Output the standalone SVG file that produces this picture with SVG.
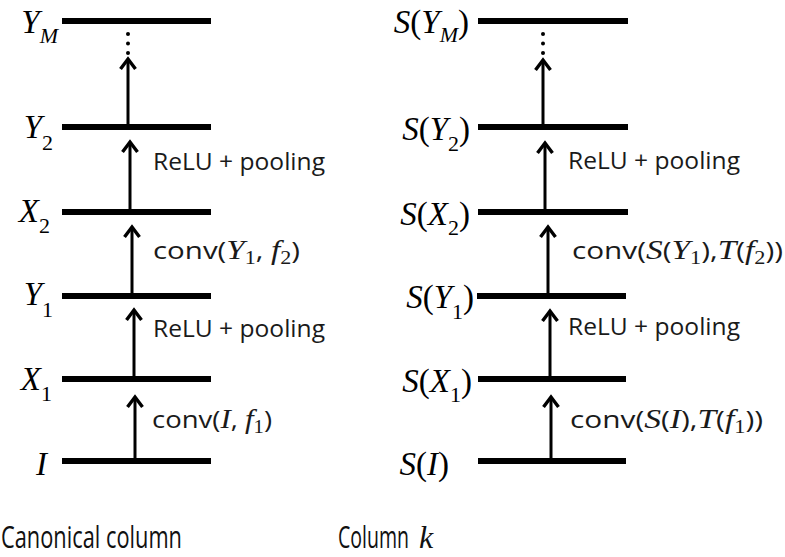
<svg xmlns="http://www.w3.org/2000/svg" width="785" height="557" viewBox="0 0 785 557">
  <style>
    .layer { stroke: #000; stroke-width: 6; }
    .flow { stroke: #000; stroke-width: 3; fill: none; marker-end: url(#head); }
    .dot { fill: #000; }
    .math { font-family: "Liberation Serif", "DejaVu Serif", serif; font-size: 33px; font-style: italic; fill: #000; }
    .up { font-style: normal; }
    .sub { font-size: 22px; }
    .lbl { font-family: "Open Sans", "DejaVu Sans", sans-serif; font-size: 24px; fill: #1a1a1a; }
    .lbl .it { font-family: "Liberation Serif", "DejaVu Serif", serif; font-style: italic; font-size: 27px; }
    .lbl .sb { font-family: "Liberation Serif", "DejaVu Serif", serif; font-size: 18px; }
    .cap { font-family: "Open Sans", "DejaVu Sans", sans-serif; font-size: 31px; fill: #111; }
    .capk { font-family: "Liberation Serif", "DejaVu Serif", serif; font-style: italic; font-size: 32px; fill: #111; }
  </style>
  <defs>
    <marker id="head" markerUnits="userSpaceOnUse" viewBox="-12 -10 14 20" markerWidth="14" markerHeight="20" refX="0" refY="0" orient="auto" overflow="visible">
      <path d="M -10 -7.5 L 0 0 L -10 7.5" fill="none" stroke="#000" stroke-width="3.4" stroke-linejoin="miter"/>
    </marker>
  </defs>
  <rect width="785" height="557" fill="#fff"/>

  <!-- canonical column: layers -->
  <g id="canon-YM"><line class="layer" x1="62" y1="21" x2="211" y2="21"/>
    <text class="math" x="58" y="33" text-anchor="end">Y<tspan class="sub" dy="10">M</tspan></text></g>
  <g id="canon-Y2"><line class="layer" x1="62" y1="127" x2="211" y2="127"/>
    <text class="math" x="53" y="138" text-anchor="end">Y<tspan class="sub up" dy="12">2</tspan></text></g>
  <g id="canon-X2"><line class="layer" x1="62" y1="212" x2="211" y2="212"/>
    <text class="math" x="50" y="222" text-anchor="end">X<tspan class="sub up" dy="11">2</tspan></text></g>
  <g id="canon-Y1"><line class="layer" x1="62" y1="296" x2="211" y2="296"/>
    <text class="math" x="53" y="305" text-anchor="end">Y<tspan class="sub up" dy="12">1</tspan></text></g>
  <g id="canon-X1"><line class="layer" x1="62" y1="379" x2="211" y2="379"/>
    <text class="math" x="52" y="390" text-anchor="end">X<tspan class="sub up" dy="11">1</tspan></text></g>
  <g id="canon-I"><line class="layer" x1="62" y1="461" x2="211" y2="461"/>
    <text class="math" x="36" y="475">I</text></g>

  <!-- column k: layers -->
  <g id="colk-YM"><line class="layer" x1="478" y1="21" x2="628" y2="21"/>
    <text class="math" x="469" y="33" text-anchor="end">S<tspan class="up">(</tspan>Y<tspan class="sub" dy="9">M</tspan><tspan class="up" dy="-9">)</tspan></text></g>
  <g id="colk-Y2"><line class="layer" x1="478" y1="127" x2="628" y2="127"/>
    <text class="math" x="470" y="140" text-anchor="end">S<tspan class="up">(</tspan>Y<tspan class="sub up" dy="11">2</tspan><tspan class="up" dy="-11">)</tspan></text></g>
  <g id="colk-X2"><line class="layer" x1="478" y1="212" x2="628" y2="212"/>
    <text class="math" x="470" y="225" text-anchor="end">S<tspan class="up">(</tspan>X<tspan class="sub up" dy="10">2</tspan><tspan class="up" dy="-10">)</tspan></text></g>
  <g id="colk-Y1"><line class="layer" x1="477" y1="296" x2="626" y2="296"/>
    <text class="math" x="474" y="308" text-anchor="end">S<tspan class="up">(</tspan>Y<tspan class="sub up" dy="11">1</tspan><tspan class="up" dy="-11">)</tspan></text></g>
  <g id="colk-X1"><line class="layer" x1="478" y1="379" x2="626" y2="379"/>
    <text class="math" x="472" y="392" text-anchor="end">S<tspan class="up">(</tspan>X<tspan class="sub up" dy="10">1</tspan><tspan class="up" dy="-10">)</tspan></text></g>
  <g id="colk-I"><line class="layer" x1="478" y1="461" x2="626" y2="461"/>
    <text class="math" x="449" y="475" text-anchor="end">S<tspan class="up">(</tspan>I<tspan class="up">)</tspan></text></g>

  <!-- connectors -->
  <g id="connectors">
    <path class="flow" d="M128 124 V59"/>
    <path class="flow" d="M130 209 V142"/>
    <path class="flow" d="M132 293 V227"/>
    <path class="flow" d="M134 376 V310"/>
    <path class="flow" d="M135 458 V397"/>
    <path class="flow" d="M543 124 V60"/>
    <path class="flow" d="M545 209 V143"/>
    <path class="flow" d="M548 293 V227"/>
    <path class="flow" d="M550 376 V311"/>
    <path class="flow" d="M551 458 V397"/>
    <circle class="dot" cx="128" cy="34" r="2"/>
    <circle class="dot" cx="128" cy="43.5" r="2"/>
    <circle class="dot" cx="128" cy="53" r="2"/>
    <circle class="dot" cx="543" cy="34" r="2"/>
    <circle class="dot" cx="543" cy="43.5" r="2"/>
    <circle class="dot" cx="543" cy="53" r="2"/>
  </g>

  <!-- operation labels -->
  <g id="ops">
    <text class="lbl" x="153" y="170" textLength="172" lengthAdjust="spacingAndGlyphs">ReLU + pooling</text>
    <text class="lbl" x="153" y="259" textLength="147" lengthAdjust="spacingAndGlyphs">conv(<tspan class="it">Y</tspan><tspan class="sb" dy="5">1</tspan><tspan dy="-5">, </tspan><tspan class="it">f</tspan><tspan class="sb" dy="5">2</tspan><tspan dy="-5">)</tspan></text>
    <text class="lbl" x="153" y="337" textLength="172" lengthAdjust="spacingAndGlyphs">ReLU + pooling</text>
    <text class="lbl" x="152" y="428" textLength="120" lengthAdjust="spacingAndGlyphs">conv(<tspan class="it">I</tspan>, <tspan class="it">f</tspan><tspan class="sb" dy="5">1</tspan><tspan dy="-5">)</tspan></text>

    <text class="lbl" x="568" y="169" textLength="172" lengthAdjust="spacingAndGlyphs">ReLU + pooling</text>
    <text class="lbl" x="572" y="259" textLength="211" lengthAdjust="spacingAndGlyphs">conv(<tspan class="it">S</tspan>(<tspan class="it">Y</tspan><tspan class="sb" dy="5">1</tspan><tspan dy="-5">),</tspan><tspan class="it">T</tspan>(<tspan class="it">f</tspan><tspan class="sb" dy="5">2</tspan><tspan dy="-5">))</tspan></text>
    <text class="lbl" x="568" y="335" textLength="172" lengthAdjust="spacingAndGlyphs">ReLU + pooling</text>
    <text class="lbl" x="570" y="428" textLength="193" lengthAdjust="spacingAndGlyphs">conv(<tspan class="it">S</tspan>(<tspan class="it">I</tspan>),<tspan class="it">T</tspan>(<tspan class="it">f</tspan><tspan class="sb" dy="5">1</tspan><tspan dy="-5">))</tspan></text>
  </g>

  <!-- column captions (condensed horizontally) -->
  <g id="captions">
    <text class="cap" x="1" y="548" textLength="181" lengthAdjust="spacingAndGlyphs">Canonical column</text>
    <text class="cap" transform="translate(338 548) scale(0.63 1)">Column</text>
    <text class="capk" x="419" y="548">k</text>
  </g>
</svg>
